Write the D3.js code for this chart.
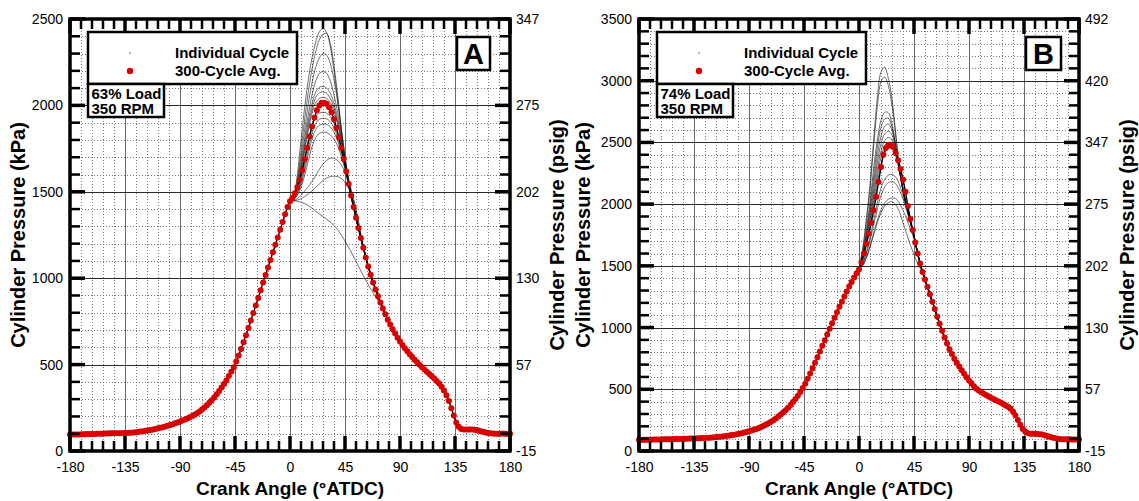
<!DOCTYPE html>
<html><head><meta charset="utf-8">
<script src="https://cdn.jsdelivr.net/npm/d3@7"></script>
<style>
body{margin:0;background:#fff;}
svg{display:block;font-family:"Liberation Sans",Arial,Helvetica,sans-serif;}
</style></head><body>
<svg id="chart" width="1139" height="501"></svg>
<script>
// ---------------- DATA ----------------
const crankTicks = [-180, -135, -90, -45, 0, 45, 90, 135, 180];
const kpaTicksA = [0, 500, 1000, 1500, 2000, 2500];
const psigLabelsA = ["-15", "57", "130", "202", "275", "347"];
const kpaTicksB = [0, 500, 1000, 1500, 2000, 2500, 3000, 3500];
const psigLabelsB = ["-15", "57", "130", "202", "275", "347", "420", "492"];

// crank angle of the 300-cycle average samples (every 2 deg) and of the individual-cycle samples (every 3 deg)
const avgAngles = d3.range(-180, 181, 2);
const cycleAngles = d3.range(0, 79, 3);

// Panel A: 63% load, 300-cycle average (kPa)
const avgA = [
  95,95,95,96,96,97,97,98,98,99,
  99,100,100,100,101,101,102,102,102,103,
  103,103,104,104,105,106,107,109,111,113,
  115,117,120,122,125,128,131,134,138,142,
  146,150,155,160,165,170,176,182,188,195,
  202,210,219,229,240,252,265,279,294,310,
  328,347,367,388,410,434,458,484,518,553,
  590,630,670,712,755,798,842,886,930,975,
  1018,1062,1106,1150,1193,1236,1280,1325,1370,1412,
  1445,1465,1492,1527,1570,1625,1690,1755,1820,1878,
  1928,1972,2000,2015,2016,2008,1990,1960,1920,1870,
  1815,1755,1690,1618,1545,1478,1412,1350,1290,1232,
  1176,1120,1068,1020,975,935,896,860,825,792,
  760,732,705,680,656,634,614,595,577,560,
  544,528,513,499,485,471,458,445,432,419,
  405,390,372,350,322,290,248,205,165,140,
  128,124,124,125,125,124,122,119,115,111,
  107,104,102,101,100,100,100,101,100,99,
  100
];

// Panel A: individual cycles, 0..78 deg ATDC (kPa)
const cyclesA = [
  [1448,1475,1600,1800,1990,2150,2275,2365,2425,2446,2420,2340,2200,2030,1850,1690,1565,1460,1362,1270,1182,1100,1025,958,899,845,795],
  [1448,1472,1570,1740,1920,2080,2210,2310,2380,2412,2417,2360,2230,2060,1870,1700,1570,1462,1364,1272,1184,1101,1026,959,900,846,796],
  [1448,1470,1550,1700,1860,2010,2130,2220,2275,2300,2290,2240,2150,2020,1860,1700,1568,1458,1360,1268,1180,1098,1023,957,898,844,794],
  [1448,1468,1535,1665,1810,1950,2060,2140,2185,2195,2185,2140,2060,1960,1830,1690,1562,1455,1357,1266,1179,1097,1022,956,897,843,793],
  [1448,1468,1530,1640,1780,1910,2010,2075,2105,2110,2100,2070,2010,1925,1810,1680,1558,1452,1355,1265,1178,1096,1022,956,897,843,793],
  [1448,1466,1525,1625,1755,1880,1980,2045,2072,2078,2070,2040,1985,1905,1800,1675,1556,1450,1354,1264,1178,1096,1021,955,896,842,792],
  [1448,1466,1520,1610,1735,1855,1955,2015,2040,2047,2040,2015,1965,1890,1790,1670,1553,1449,1353,1263,1177,1095,1021,955,896,842,792],
  [1447,1462,1505,1580,1680,1790,1880,1935,1955,1960,1955,1935,1895,1835,1750,1650,1545,1445,1350,1261,1176,1094,1020,955,896,842,792],
  [1447,1460,1495,1560,1650,1750,1840,1895,1920,1925,1922,1905,1870,1815,1740,1645,1540,1442,1348,1260,1175,1094,1020,955,896,842,792],
  [1447,1458,1488,1545,1625,1720,1805,1860,1885,1892,1890,1875,1845,1795,1725,1640,1538,1440,1346,1258,1174,1093,1019,954,895,841,791],
  [1446,1456,1480,1525,1595,1680,1760,1812,1838,1845,1842,1830,1805,1765,1705,1630,1535,1438,1344,1257,1173,1092,1018,954,895,841,791],
  [1446,1450,1460,1480,1505,1530,1560,1595,1630,1660,1682,1694,1694,1680,1655,1615,1560,1490,1400,1290,1180,1096,1021,955,896,842,792],
  [1446,1448,1452,1460,1472,1487,1505,1525,1545,1565,1580,1588,1590,1588,1578,1555,1520,1470,1395,1290,1180,1096,1021,955,896,842,792],
  [1446,1448,1445,1440,1432,1420,1405,1388,1372,1357,1340,1325,1305,1280,1250,1215,1178,1140,1098,1056,1015,975,938,905,870,835,792]
];

// Panel B: 74% load, 300-cycle average (kPa)
const avgB = [
  90,90,91,91,92,92,93,93,94,94,
  95,95,96,96,97,97,98,98,99,99,
  100,101,101,102,103,104,105,106,107,108,
  110,112,114,116,118,120,123,126,129,132,
  136,140,144,149,154,160,166,172,179,187,
  195,204,214,225,237,250,264,279,295,312,
  330,351,373,397,422,448,478,510,545,585,
  627,670,714,760,806,852,898,944,990,1036,
  1080,1124,1168,1210,1252,1292,1332,1370,1406,1440,
  1470,1530,1600,1680,1760,1850,1950,2060,2180,2300,
  2400,2455,2478,2480,2462,2415,2355,2285,2200,2100,
  1985,1880,1790,1690,1600,1520,1450,1390,1330,1270,
  1210,1150,1090,1030,975,920,870,825,785,748,
  715,685,655,625,598,572,548,525,505,490,
  476,464,453,442,432,422,412,402,392,380,
  368,358,343,320,290,252,212,178,157,145,
  140,139,139,138,136,133,128,122,116,110,
  105,101,98,96,95,95,95,94,94,93,
  93
];

// Panel B: individual cycles, 0..78 deg ATDC (kPa)
const cyclesB = [
  [1480,1640,1880,2160,2520,2860,3070,3110,3020,2850,2580,2300,2110,1975,1860,1745,1605,1488,1392,1302,1212,1122,1032,950,872,807,750],
  [1480,1620,1850,2120,2470,2790,2990,3030,2960,2800,2560,2290,2100,1970,1855,1742,1603,1487,1391,1301,1211,1121,1031,949,871,806,749],
  [1480,1600,1790,2020,2290,2520,2680,2745,2740,2650,2480,2280,2110,1980,1860,1742,1602,1486,1390,1300,1210,1120,1030,948,870,805,748],
  [1480,1590,1765,1980,2230,2460,2620,2690,2695,2620,2470,2280,2110,1980,1858,1741,1601,1485,1390,1300,1210,1120,1030,948,870,805,748],
  [1478,1580,1740,1940,2170,2390,2550,2630,2650,2600,2470,2290,2120,1985,1860,1742,1602,1486,1391,1301,1211,1121,1031,949,871,806,749],
  [1478,1570,1720,1905,2120,2330,2490,2570,2590,2560,2450,2290,2125,1990,1862,1743,1603,1487,1392,1302,1212,1122,1032,950,872,807,750],
  [1476,1560,1700,1870,2070,2270,2430,2515,2540,2520,2430,2285,2125,1990,1862,1743,1603,1487,1391,1301,1211,1121,1031,949,871,806,749],
  [1476,1550,1680,1840,2030,2220,2380,2470,2500,2490,2415,2280,2120,1990,1860,1742,1602,1486,1390,1300,1210,1120,1030,948,870,805,748],
  [1475,1540,1660,1810,1990,2170,2320,2415,2450,2450,2390,2270,2115,1985,1858,1741,1601,1485,1390,1300,1210,1120,1030,948,870,805,748],
  [1474,1520,1610,1730,1870,2010,2130,2200,2235,2240,2220,2160,2070,1965,1850,1738,1600,1484,1389,1299,1209,1119,1029,947,869,804,747],
  [1474,1515,1595,1705,1830,1960,2070,2140,2175,2182,2165,2115,2040,1950,1845,1735,1598,1483,1388,1298,1208,1118,1028,946,868,803,746],
  [1473,1505,1570,1660,1765,1870,1955,2010,2040,2050,2045,2010,1950,1880,1800,1715,1592,1480,1387,1297,1207,1117,1027,945,867,802,745],
  [1473,1500,1560,1650,1750,1850,1930,1985,2012,2020,1995,1940,1850,1760,1670,1590,1520,1462,1385,1296,1207,1117,1027,945,867,802,745]
];

// ---------------- DRAWING ----------------
const svg = d3.select("#chart");
const RED = "#d90000";

function drawPanel(cfg) {
  const g = svg.append("g");
  const x = d3.scaleLinear().domain([-180, 180]).range([cfg.left, cfg.right]);
  const y = d3.scaleLinear().domain([0, cfg.ymax]).range([cfg.bottom, cfg.top]);

  const minorX = d3.range(-180, 181, 9).filter(v => v % 45 !== 0);
  const minorY = d3.range(0, cfg.ymax + 1, 100).filter(v => v % 500 !== 0);

  // minor dotted grid
  g.append("g").selectAll("line").data(minorX).join("line")
    .attr("x1", d => Math.round(x(d)) + 0.5).attr("x2", d => Math.round(x(d)) + 0.5)
    .attr("y1", cfg.top).attr("y2", cfg.bottom)
    .attr("stroke", "#7a7a7a").attr("stroke-width", 1).attr("stroke-dasharray", "1,2");
  g.append("g").selectAll("line").data(minorY).join("line")
    .attr("y1", d => Math.round(y(d)) + 0.5).attr("y2", d => Math.round(y(d)) + 0.5)
    .attr("x1", cfg.left).attr("x2", cfg.right)
    .attr("stroke", "#7a7a7a").attr("stroke-width", 1).attr("stroke-dasharray", "1,2");
  // major grid
  g.append("g").selectAll("line").data(crankTicks.slice(1, -1)).join("line")
    .attr("x1", d => Math.round(x(d)) + 0.5).attr("x2", d => Math.round(x(d)) + 0.5)
    .attr("y1", cfg.top).attr("y2", cfg.bottom)
    .attr("stroke", "#6a6a6a").attr("stroke-width", 1);
  g.append("g").selectAll("line").data(cfg.kpaTicks.slice(1, -1)).join("line")
    .attr("y1", d => Math.round(y(d)) + 0.5).attr("y2", d => Math.round(y(d)) + 0.5)
    .attr("x1", cfg.left).attr("x2", cfg.right)
    .attr("stroke", "#2a2a2a").attr("stroke-width", 1);

  // individual cycles
  const line = d3.line().curve(d3.curveCatmullRom).x(d => x(d[0])).y(d => y(d[1]));
  g.append("path").datum(avgAngles.map((a, i) => [a, cfg.avg[i]]))
    .attr("d", line).attr("fill", "none").attr("stroke", "#000").attr("stroke-width", 1.4);
  g.append("g").selectAll("path").data(cfg.cycles).join("path")
    .attr("d", c => line(cycleAngles.map((a, i) => [a, c[i]])))
    .attr("fill", "none").attr("stroke", "#111").attr("stroke-width", 0.7).attr("stroke-opacity", 0.85);

  // 300-cycle average markers
  g.append("g").selectAll("circle").data(avgAngles.map((a, i) => [a, cfg.avg[i]])).join("circle")
    .attr("cx", d => x(d[0])).attr("cy", d => y(d[1])).attr("r", 3).attr("fill", RED);

  // frame
  g.append("rect").attr("x", cfg.left).attr("y", cfg.top)
    .attr("width", cfg.right - cfg.left).attr("height", cfg.bottom - cfg.top)
    .attr("fill", "none").attr("stroke", "#000").attr("stroke-width", 3.5);

  // inward tick marks on all four sides (filled bars)
  const MAJ = 15, MIN = 10;
  const tk = g.append("g");
  function bar(x0, y0, w, h) {
    tk.append("rect").attr("x", x0).attr("y", y0).attr("width", w).attr("height", h).attr("fill", "#000");
  }
  function xTicks(vals, len, w) {
    vals.forEach(v => {
      const px = x(v);
      bar(px - w / 2, cfg.bottom - len, w, len);
      bar(px - w / 2, cfg.top, w, len);
    });
  }
  function yTicks(vals, len, w) {
    vals.forEach(v => {
      const py = y(v);
      bar(cfg.left, py - w / 2, len, w);
      bar(cfg.right - len, py - w / 2, len, w);
    });
  }
  xTicks(minorX, MIN, 2.5); xTicks(crankTicks, MAJ, 3.5);
  yTicks(minorY, MIN, 2.5); yTicks(cfg.kpaTicks, MAJ, 3.5);

  // tick labels through d3 axes
  function styleAxis(sel) {
    sel.select(".domain").remove();
    sel.selectAll(".tick line").remove();
    sel.selectAll(".tick text").attr("font-size", 14).attr("fill", "#000")
      .attr("font-family", "'Liberation Sans', Arial, sans-serif");
  }
  g.append("g").attr("transform", `translate(0,${cfg.bottom})`)
    .call(d3.axisBottom(x).tickValues(crankTicks).tickSize(0).tickPadding(11).tickFormat(d => String(d)))
    .call(styleAxis);
  g.append("g").attr("transform", `translate(${cfg.left},0)`)
    .call(d3.axisLeft(y).tickValues(cfg.kpaTicks).tickSize(0).tickPadding(7).tickFormat(d => String(d)))
    .call(styleAxis);
  g.append("g").attr("transform", `translate(${cfg.right},0)`)
    .call(d3.axisRight(y).tickValues(cfg.kpaTicks).tickSize(0).tickPadding(6).tickFormat((d, i) => cfg.psig[i]))
    .call(styleAxis);

  // axis titles
  const mid = (cfg.top + cfg.bottom) / 2;
  g.append("text").attr("transform", `translate(${(cfg.left + cfg.right) / 2},495)`)
    .attr("text-anchor", "middle").attr("font-size", 19).attr("font-weight", "bold")
    .text("Crank Angle (\u00B0ATDC)");
  g.append("text").attr("transform", `translate(${cfg.yTitleL},${mid}) rotate(-90)`)
    .attr("text-anchor", "middle").attr("dy", "0.36em").attr("font-size", 20).attr("font-weight", "bold")
    .text("Cylinder Pressure (kPa)");
  g.append("text").attr("transform", `translate(${cfg.yTitleR},${mid}) rotate(-90)`)
    .attr("text-anchor", "middle").attr("dy", "0.36em").attr("font-size", 20).attr("font-weight", "bold")
    .text("Cylinder Pressure (psig)");

  // legend box
  const lx = cfg.left + 18, ly = cfg.top + 13;
  g.append("rect").attr("x", lx).attr("y", ly).attr("width", 209).attr("height", 52)
    .attr("fill", "#fff").attr("stroke", "#000").attr("stroke-width", 2.5);
  g.append("circle").attr("cx", lx + 42).attr("cy", ly + 21).attr("r", 0.8).attr("fill", "#555");
  g.append("circle").attr("cx", lx + 42).attr("cy", ly + 39).attr("r", 3.2).attr("fill", RED);
  g.append("text").attr("x", lx + 87).attr("y", ly + 26).attr("font-size", 15).attr("font-weight", "bold")
    .text("Individual Cycle");
  g.append("text").attr("x", lx + 87).attr("y", ly + 44).attr("font-size", 15).attr("font-weight", "bold")
    .text("300-Cycle Avg.");
  // load box
  g.append("rect").attr("x", lx).attr("y", ly + 52).attr("width", 76).attr("height", 33)
    .attr("fill", "#fff").attr("stroke", "#000").attr("stroke-width", 2.5);
  g.append("text").attr("x", lx + 3.5).attr("y", ly + 67).attr("font-size", 15).attr("font-weight", "bold")
    .text(cfg.load);
  g.append("text").attr("x", lx + 3.5).attr("y", ly + 82).attr("font-size", 15).attr("font-weight", "bold")
    .text("350 RPM");
  // panel letter
  g.append("rect").attr("x", cfg.right - 53).attr("y", 37).attr("width", cfg.letterW).attr("height", 33)
    .attr("fill", "#fff").attr("stroke", "#000").attr("stroke-width", 2.5);
  g.append("text").attr("x", cfg.right - 53 + cfg.letterW / 2).attr("y", 64)
    .attr("text-anchor", "middle").attr("font-size", 29).attr("font-weight", "bold").text(cfg.letter);
}

drawPanel({
  left: 70, right: 510, top: 19, bottom: 451, ymax: 2500,
  kpaTicks: kpaTicksA, psig: psigLabelsA, avg: avgA, cycles: cyclesA,
  yTitleL: 18, yTitleR: 557, load: "63% Load", letter: "A", letterW: 33
});
drawPanel({
  left: 639, right: 1079, top: 19, bottom: 451, ymax: 3500,
  kpaTicks: kpaTicksB, psig: psigLabelsB, avg: avgB, cycles: cyclesB,
  yTitleL: 583, yTitleR: 1127, load: "74% Load", letter: "B", letterW: 35
});
</script>
</body></html>
